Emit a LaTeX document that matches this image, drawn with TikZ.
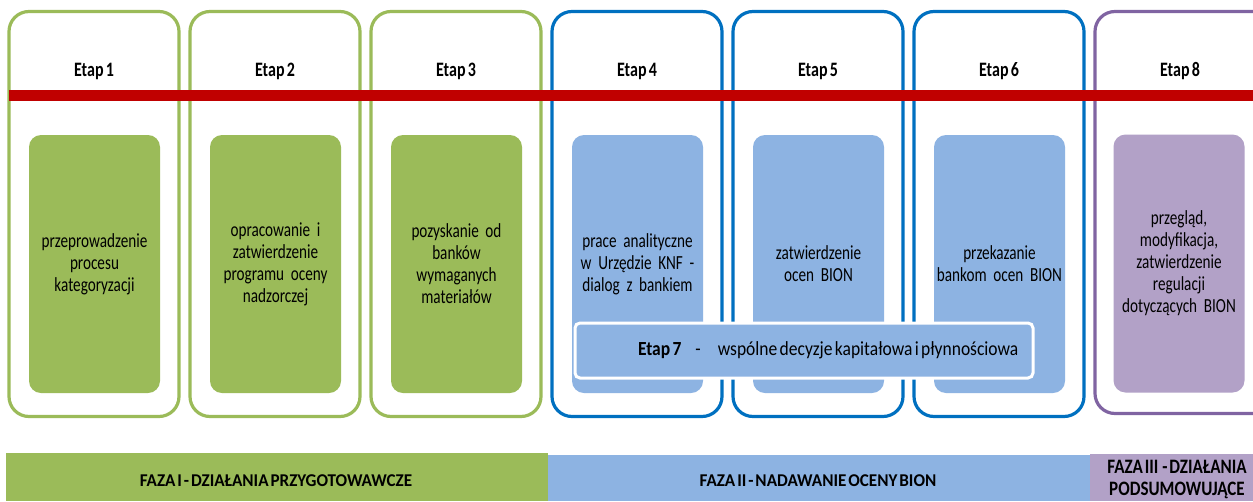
\documentclass[tikz,border=0pt]{standalone}
\usepackage{fontspec}
\setmainfont{Carlito}[FakeStretch=0.78, WordSpace=0.6]
\newfontfamily\bodyfont{Carlito}[FakeStretch=0.76, WordSpace=0.4]
\newfontfamily\barfont{Carlito}[FakeStretch=0.875, WordSpace=0.6]
\newfontfamily\fazafont{Carlito}[FakeStretch=0.95, WordSpace=0.5]
\newfontfamily\fazathreefont{Carlito}[FakeStretch=0.83, WordSpace=0.5]
\definecolor{fgreen}{HTML}{9BBB59}
\definecolor{bborder}{HTML}{0070C0}
\definecolor{bfill}{HTML}{8DB3E2}
\definecolor{pborder}{HTML}{8064A2}
\definecolor{pfill}{HTML}{B2A1C7}
\definecolor{fred}{HTML}{C00000}
\tikzset{
  outerbox/.style={draw, line width=3.2pt, rounded corners=20pt, minimum width=170pt, minimum height=405pt, inner sep=0pt, fill=white},
  innerbox/.style={rounded corners=12pt, minimum width=131pt, minimum height=258pt, inner sep=0pt, text width=128pt, align=center, font=\bodyfont\fontsize{20}{22}\selectfont},
  header/.style={font=\bfseries\fontsize{20.5}{22}\selectfont, inner sep=0pt},
  fazabar/.style={inner sep=0pt},
  fazatext/.style={inner sep=0pt, text height=18pt, text depth=0pt, font=\fazafont\bfseries\fontsize{18}{22}\selectfont}
}
\begin{document}
\begin{tikzpicture}[x=1pt,y=-1pt]
\useasboundingbox (0,0) rectangle (1253,501);
\clip (0,0) rectangle (1253,501);
% outer boxes
\node[outerbox, draw=fgreen] (o1) at (94,214) {};
\node[outerbox, draw=fgreen] (o2) at (275,214) {};
\node[outerbox, draw=fgreen] (o3) at (456,214) {};
\node[outerbox, draw=bborder] (o4) at (637,214) {};
\node[outerbox, draw=bborder] (o5) at (818,214) {};
\node[outerbox, draw=bborder] (o6) at (999,214) {};
\node[outerbox, draw=pborder, minimum width=200pt, minimum height=402pt] (o8) at (1195,212.5) {};
% red timeline
\coordinate (rl) at (9,95.5);
\coordinate (rr) at (1253,95.5);
\draw[line width=11pt, fred] (rl) -- (rr);
% headers
\node[header] (h1) at (94,71) {Etap 1};
\node[header] (h2) at (275,71) {Etap 2};
\node[header] (h3) at (456,71) {Etap 3};
\node[header] (h4) at (637,71) {Etap 4};
\node[header] (h5) at (818,71) {Etap 5};
\node[header] (h6) at (999,71) {Etap 6};
\node[header] (h8) at (1180,71) {Etap 8};
% inner boxes
\node[innerbox, fill=fgreen] (i1) at (94.5,264) {przeprowadzenie\\procesu\\kategoryzacji};
\node[innerbox, fill=fgreen] (i2) at (275.5,264) {opracowanie i\\zatwierdzenie\\programu oceny\\nadzorczej};
\node[innerbox, fill=fgreen] (i3) at (456.5,264) {pozyskanie od\\banków\\wymaganych\\materiałów};
\node[innerbox, fill=bfill] (i4) at (637.5,264) {prace analityczne\\w Urzędzie KNF -\\dialog z bankiem};
\node[innerbox, fill=bfill] (i5) at (818.5,264) {zatwierdzenie\\ocen BION};
\node[innerbox, fill=bfill] (i6) at (999.5,264) {przekazanie\\bankom ocen BION};
\node[innerbox, fill=pfill] (i8) at (1179,263.5) {przegląd,\\modyfikacja,\\zatwierdzenie\\regulacji\\dotyczących BION};
% etap 7 bar
\node[draw=white, line width=3pt, fill=bfill, rounded corners=5pt, minimum width=458pt, minimum height=55pt, inner sep=0pt, font=\barfont\fontsize{20}{22}\selectfont] (e7) at (804,350.5)
  {\makebox[452pt][l]{\hspace{60pt}\textbf{Etap 7}\hspace{14pt}-\hspace{17pt}wspólne decyzje kapitałowa i płynnościowa}};
% phase bars
\node[fazabar, fill=fgreen, minimum width=542pt, minimum height=48pt] (f1) at (277,477) {};
\node[fazabar, fill=bfill, minimum width=542pt, minimum height=46pt] (f2) at (819,478) {};
\node[fazabar, fill=pfill, minimum width=163pt, minimum height=47pt] (f3) at (1171.5,477.5) {};
\node[fazatext] (t1) at (276,477) {FAZA I - DZIAŁANIA PRZYGOTOWAWCZE};
\node[fazatext] (t2) at (818,477) {FAZA II - NADAWANIE OCENY BION};
\node[inner sep=0pt, align=center, font=\fazathreefont\bfseries\fontsize{20.5}{21.5}\selectfont] (t3) at (1177,479.5) {FAZA III \ - DZIAŁANIA\\PODSUMOWUJĄCE};
\end{tikzpicture}
\end{document}
